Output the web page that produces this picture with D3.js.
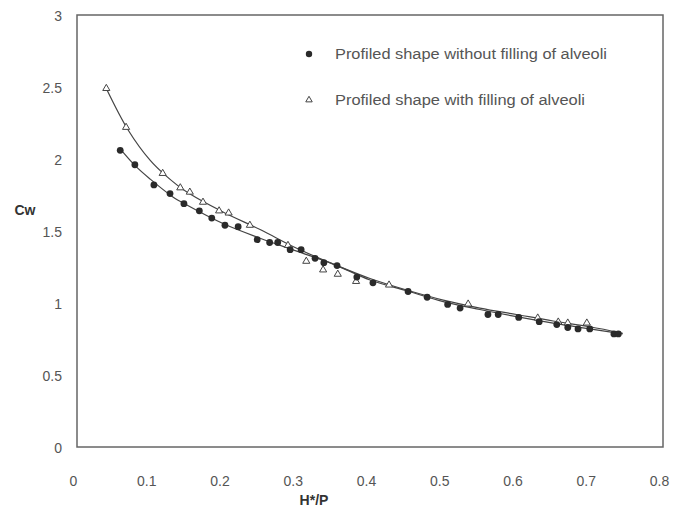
<!DOCTYPE html>
<html>
<head>
<meta charset="utf-8">
<script src="https://cdn.jsdelivr.net/npm/d3@7"></script>
<style>
  body { margin: 0; background: #fff; }
  text { font-family: "Liberation Sans", Arial, sans-serif; }
</style>
</head>
<body>
<svg width="673" height="516"></svg>
<script>
// measured points, without filling (circles)
var circX = [0.059,0.079,0.105,0.127,0.146,0.167,0.184,0.202,0.220,0.246,0.263,0.274,0.291,0.306,0.325,0.337,0.355,0.382,0.404,0.452,0.478,0.506,0.523,0.561,0.575,0.603,0.631,0.655,0.670,0.684,0.700,0.733,0.739]
var circY = [2.06,1.96,1.82,1.76,1.69,1.64,1.59,1.54,1.53,1.44,1.42,1.42,1.37,1.37,1.31,1.28,1.26,1.18,1.14,1.08,1.04,0.99,0.965,0.92,0.92,0.90,0.87,0.85,0.83,0.82,0.82,0.785,0.785]

// measured points, with filling (triangles)
var triX = [0.040,0.067,0.117,0.141,0.154,0.172,0.194,0.207,0.236,0.288,0.313,0.336,0.356,0.381,0.426,0.534,0.629,0.657,0.670,0.696]
var triY = [2.49,2.22,1.90,1.80,1.77,1.70,1.64,1.625,1.54,1.40,1.29,1.23,1.20,1.15,1.125,0.993,0.896,0.868,0.861,0.861]

// trend curves
var circCurveX = [0.059,0.08,0.1,0.13,0.15,0.2,0.25,0.3,0.35,0.4,0.45,0.5,0.55,0.6,0.65,0.7,0.745]
var circCurveY = [2.07,1.95,1.86,1.74,1.68,1.55,1.45,1.36,1.27,1.16,1.085,1.01,0.955,0.905,0.86,0.82,0.785]
var triCurveX = [0.04,0.07,0.1,0.12,0.15,0.2,0.25,0.3,0.35,0.4,0.45,0.5,0.55,0.6,0.65,0.7,0.745]
var triCurveY = [2.49,2.2,1.99,1.89,1.77,1.63,1.51,1.38,1.27,1.17,1.09,1.02,0.965,0.92,0.875,0.835,0.79]

var xTicks = [0,0.1,0.2,0.3,0.4,0.5,0.6,0.7,0.8]
var yTicks = [0,0.5,1,1.5,2,2.5,3]
var legendLabels = ["Profiled shape without filling of alveoli", "Profiled shape with filling of alveoli"]
var legendWidths = [272, 250]

// plot box (careful: "top" is a reserved window prop)
var pLeft = 77, pRight = 663, pTop = 15, pBottom = 447
var svg = d3.select('svg')

var x = d3.scaleLinear().domain([0, 0.8]).range([pLeft, pRight])
var y = d3.scaleLinear().domain([0, 3]).range([pBottom, pTop])

// frame
svg.append('rect')
  .attr('x', pLeft).attr('y', pTop)
  .attr('width', pRight - pLeft).attr('height', pBottom - pTop)
  .attr('fill', 'none').attr('stroke', '#666').attr('stroke-width', 1.5)

// axes (labels only, no tick marks)
var xAxis = svg.append('g')
  .attr('transform', 'translate(0,' + pBottom + ')')
  .call(d3.axisBottom(x).tickValues(xTicks).tickSize(0).tickPadding(29).tickFormat(d3.format('')))
xAxis.select('.domain').remove()
xAxis.selectAll('text').attr('font-size', 14).attr('fill', '#555').attr('dx', -4)
  .style('font-family', '"Liberation Sans", Arial, sans-serif')

var yAxis = svg.append('g')
  .attr('transform', 'translate(' + pLeft + ',0)')
  .call(d3.axisLeft(y).tickValues(yTicks).tickSize(0).tickPadding(15).tickFormat(d3.format('')))
yAxis.select('.domain').remove()
yAxis.selectAll('text').attr('font-size', 14).attr('fill', '#555').attr('dy', '0.4em')
  .style('font-family', '"Liberation Sans", Arial, sans-serif')

// axis titles
svg.append('text').attr('x', 25).attr('y', 215)
  .attr('text-anchor', 'middle').attr('font-size', 14).attr('font-weight', 'bold')
  .attr('fill', '#333').text('Cw')
svg.append('text').attr('x', 314).attr('y', 505)
  .attr('text-anchor', 'middle').attr('font-size', 14).attr('font-weight', 'bold')
  .attr('fill', '#333').text('H*/P')

// curves
var line = d3.line()
  .x(function(d){ return x(d[0]); })
  .y(function(d){ return y(d[1]); })
  .curve(d3.curveCatmullRom)

svg.append('path').datum(d3.zip(circCurveX, circCurveY))
  .attr('d', line).attr('fill', 'none').attr('stroke', '#444').attr('stroke-width', 1.2)
svg.append('path').datum(d3.zip(triCurveX, triCurveY))
  .attr('d', line).attr('fill', 'none').attr('stroke', '#444').attr('stroke-width', 1.2)

// markers
var tri = d3.symbol().type(d3.symbolTriangle).size(22)

svg.selectAll('.tri')
  .data(d3.zip(triX, triY))
  .enter().append('path')
  .attr('class', 'tri')
  .attr('d', tri)
  .attr('transform', function(d){ return 'translate(' + x(d[0]) + ',' + y(d[1]) + ')'; })
  .attr('fill', '#fff').attr('stroke', '#444').attr('stroke-width', 1)

svg.selectAll('.circ')
  .data(d3.zip(circX, circY))
  .enter().append('circle')
  .attr('class', 'circ')
  .attr('cx', function(d){ return x(d[0]); })
  .attr('cy', function(d){ return y(d[1]); })
  .attr('r', 3.4)
  .attr('fill', '#2a2a2a')

// legend
svg.append('circle').attr('cx', 309).attr('cy', 54).attr('r', 3.2).attr('fill', '#2a2a2a')
svg.append('path').attr('d', d3.symbol().type(d3.symbolTriangle).size(18))
  .attr('transform', 'translate(309,100)')
  .attr('fill', '#fff').attr('stroke', '#444').attr('stroke-width', 1)

svg.selectAll('.leg')
  .data(legendLabels)
  .enter().append('text')
  .attr('class', 'leg')
  .attr('x', 335)
  .attr('y', function(d,i){ return 59 + i*46; })
  .attr('font-size', 14)
  .attr('fill', '#555')
  .attr('textLength', function(d,i){ return legendWidths[i]; })
  .attr('lengthAdjust', 'spacingAndGlyphs')
  .text(function(d){ return d; })
</script>
</body>
</html>
